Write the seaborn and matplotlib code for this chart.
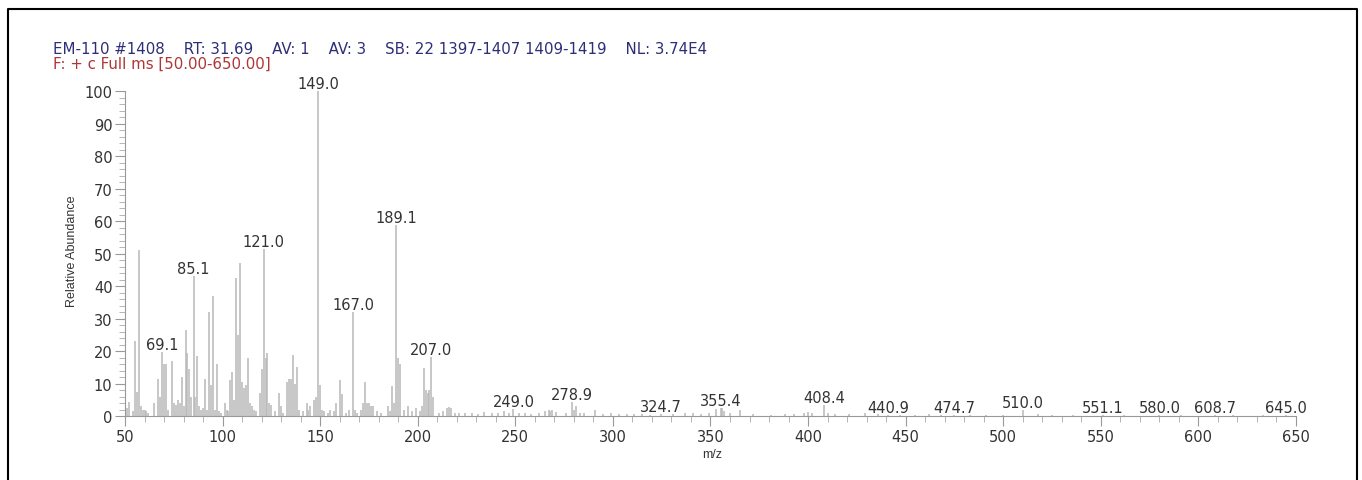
import numpy as np
import matplotlib
matplotlib.use("Agg")
import matplotlib.pyplot as plt
from matplotlib.lines import Line2D
from matplotlib.ticker import MultipleLocator
import seaborn as sns

# Peak list (m/z, relative abundance)
mz = [50, 51, 52, 54, 55, 56, 57, 58, 59, 60, 61, 62, 65, 67, 68, 69.1, 70, 71,
      72, 74, 75, 76, 77, 78, 79, 80, 81, 82, 83, 84, 85.1, 86, 87, 88, 89, 90,
      91, 92, 93, 94, 95, 96, 97, 98, 99, 101, 102, 103, 104, 105, 106, 107,
      108, 109, 110, 111, 112, 113, 114, 115, 116, 117, 119, 120, 121.0, 122,
      123, 124, 125, 127, 129, 130, 131, 133, 134, 135, 136, 137, 138, 139,
      141, 143, 144, 145, 147, 148, 149.0, 150, 151, 152, 154, 155, 157, 158,
      160, 161, 163, 165, 167.0, 168, 169, 171, 172, 173, 174, 175, 176, 177,
      179, 181, 185, 186, 187, 188, 189.1, 190, 191, 193, 195, 197, 199, 201,
      202, 203, 204, 205, 206, 207.0, 208, 211, 213, 215, 216, 217, 219,
      221, 224, 228, 231, 234, 238, 241, 244, 247, 249.0, 252, 255, 258, 262,
      265, 267, 268, 269, 271, 276, 278.9, 280, 281, 283, 285, 291, 295, 299,
      303, 307, 311, 315, 319, 324.7, 331, 337, 341, 345, 349, 353, 355.4,
      356, 357, 360, 365, 372, 381, 388, 393, 398, 400, 402, 408.4, 410, 414,
      421, 429, 436, 440.9, 447, 455, 462, 468, 474.7, 483, 491, 500, 510.0,
      518, 525, 536, 551.1, 562, 580.0, 591, 608.7, 618, 633, 645.0]
abundance = [3, 2.5, 4.4, 1.5, 23, 7.4, 51, 3, 2, 2, 1.5, 1, 4, 11.4, 6, 19.6,
             16, 16, 2, 17, 4, 3.5, 5, 4, 12, 3, 26.6, 19.5, 14.5, 6, 43.2, 6,
             18.6, 3, 2, 2.5, 11.3, 2, 31.9, 9.7, 37, 2, 16, 1.5, 1, 4, 2, 1.5,
             11, 13.7, 5, 42.5, 25, 47, 10.5, 8.5, 9.5, 17.8, 4, 3, 2, 1.5, 7,
             14.5, 51.4, 18, 19.5, 4, 3.5, 1.5, 7, 3, 1, 10.5, 11.5, 11.5, 18.9,
             10, 15, 2, 1.5, 4, 2, 3, 5, 6, 100, 9.7, 2, 1.5, 1, 2, 1.5, 4, 11.2,
             6.8, 1, 2, 32.1, 2, 1, 2, 4, 10.5, 4, 4, 3, 3, 1.5, 1, 3, 1.5, 9.2,
             4, 58.9, 17.8, 16.1, 2, 3, 1.5, 2.5, 1.5, 3, 14.8, 8, 7, 8, 18.1, 6,
             1, 1.5, 2.5, 2.7, 2.5, 1, 1, 0.8, 1, 0.7, 1.2, 0.8, 1, 1.5, 1, 2.2,
             0.8, 1, 0.6, 0.8, 1.5, 1.8, 1.5, 1.8, 1.2, 0.8, 4.2, 2, 3.2, 1, 0.8,
             1.8, 0.6, 0.8, 0.6, 0.5, 0.5, 0.6, 0.4, 0.6, 0.5, 0.8, 1, 0.6, 0.8,
             2.2, 2.6, 2.4, 1.6, 0.8, 1.8, 0.5, 0.4, 0.5, 0.6, 0.8, 1.2, 0.8, 3.4,
             1, 0.6, 0.5, 0.8, 0.5, 0.3, 0.4, 0.4, 0.5, 0.4, 0.3, 0.4, 0.4, 0.4,
             1.8, 0.5, 0.4, 0.3, 0.2, 0.3, 0.2, 0.3, 0.2, 0.3, 0.2, 0.2]

labels = [69.1, 85.1, 121.0, 149.0, 167.0, 189.1, 207.0, 249.0, 278.9, 324.7,
          355.4, 408.4, 440.9, 474.7, 510.0, 551.1, 580.0, 608.7, 645.0]

header1 = "EM-110 #1408    RT: 31.69    AV: 1    AV: 3    SB: 22 1397-1407 1409-1419    NL: 3.74E4"
header2 = "F: + c Full ms [50.00-650.00]"

sns.set_style("white")
plt.rcParams["font.family"] = ["DejaVu Sans"]

fig = plt.figure(figsize=(13.62, 4.81), dpi=100)
ax = fig.add_axes([0.0918, 0.133, 0.8597, 0.6757])

ax.vlines(mz, 0, abundance, color="#b8b8b8", linewidth=1.1)

for lab in labels:
    i = mz.index(lab)
    ax.annotate(f"{lab:.1f}", (lab, abundance[i]), xytext=(0, 0),
                textcoords="offset points", ha="center", va="bottom",
                fontsize=10.5, color="#333333")

ax.set_xlim(50, 650)
ax.set_ylim(0, 100)
ax.xaxis.set_major_locator(MultipleLocator(50))
ax.xaxis.set_minor_locator(MultipleLocator(10))
ax.yaxis.set_major_locator(MultipleLocator(10))
ax.yaxis.set_minor_locator(MultipleLocator(2))
ax.tick_params(axis="both", which="major", direction="out", length=7,
               width=0.8, color="#999999", labelsize=10.5, labelcolor="#333333",
               pad=2, bottom=True, left=True)
ax.tick_params(axis="both", which="minor", direction="out", length=4,
               width=0.6, color="#aaaaaa", bottom=True, left=True)
for s in ["top", "right"]:
    ax.spines[s].set_visible(False)
for s in ["left", "bottom"]:
    ax.spines[s].set_color("#999999")
    ax.spines[s].set_linewidth(0.8)

ax.set_xlabel("m/z", fontsize=9, color="#333333", family="Liberation Sans")
ax.set_ylabel("Relative Abundance", fontsize=9, color="#333333",
              family="Liberation Sans")
ax.xaxis.set_label_coords(0.501, -0.098)
ax.yaxis.set_label_coords(-0.040, 0.51)

fig.text(53 / 1362, 1 - 50 / 481, header1, fontsize=10.8, color="#2e2e78",
         va="center", ha="left")
fig.text(53 / 1362, 1 - 64 / 481, header2, fontsize=10.8, color="#b03535",
         va="center", ha="left")

# frame around the picture (open at the bottom)
fx0, fx1, fy1 = 8 / 1362, 1357 / 1362, 1 - 10 / 481
fig.add_artist(Line2D([fx0, fx0, fx1, fx1], [0, fy1, fy1, 0],
                      transform=fig.transFigure, color="black", linewidth=1.5))

fig.savefig("out.png", dpi=100)
